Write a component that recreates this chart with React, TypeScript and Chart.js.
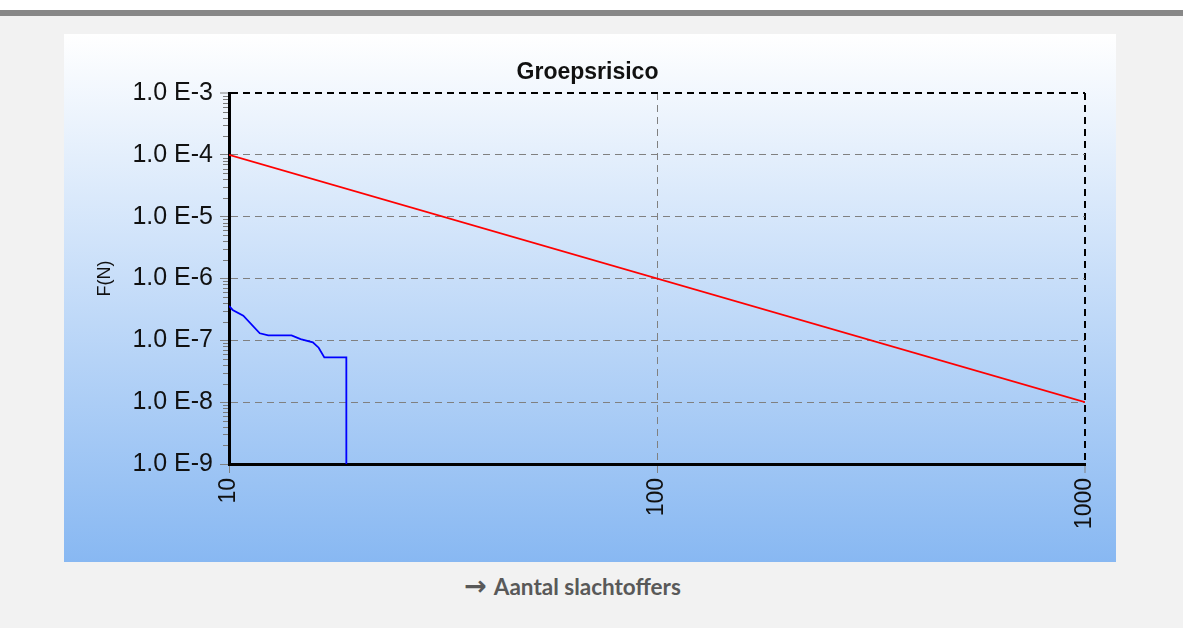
import React, { useEffect, useRef } from "react";
import { Chart, registerables } from "chart.js";

Chart.register(...registerables);

// ---- data ----
const xTickValues = [10, 100, 1000];
const xTickLabels = ["10", "100", "1000"];
const yTickValues = [1e-9, 1e-8, 1e-7, 1e-6, 1e-5, 1e-4, 1e-3];
const yTickLabels = ["1.0 E-9", "1.0 E-8", "1.0 E-7", "1.0 E-6", "1.0 E-5", "1.0 E-4", "1.0 E-3"];

const normN = [10, 1000];
const normF = [1e-4, 1e-8];

const riskN = [10, 10.2, 10.8, 11.8, 12.35, 14.0, 14.7, 15.7, 16.2, 16.7, 18.8, 18.8];
const riskF = [3.6e-7, 3.1e-7, 2.5e-7, 1.3e-7, 1.2e-7, 1.2e-7, 1.05e-7, 9.3e-8, 7.6e-8, 5.3e-8, 5.3e-8, 1e-9];

const chartTitle = "Groepsrisico";
const yTitle = "F(N)";
const xTitle = "Aantal slachtoffers";

const minorTicks = {
  id: "minorTicks",
  afterDraw(chart: any) {
    const { ctx, chartArea, scales } = chart;
    const y = scales.y;
    ctx.save();
    ctx.strokeStyle = "#7a7a7a";
    ctx.lineWidth = 1;
    for (let d = -9; d < -3; d++) {
      for (let k = 2; k <= 9; k++) {
        const py = Math.round(y.getPixelForValue(k * Math.pow(10, d))) + 0.5;
        ctx.beginPath();
        ctx.moveTo(chartArea.left - 6, py);
        ctx.lineTo(chartArea.left - 1, py);
        ctx.stroke();
      }
    }
    ctx.restore();
  },
};

function GroupRiskChart() {
  const ref = useRef<HTMLCanvasElement | null>(null);
  useEffect(() => {
    if (!ref.current) return;
    const chart = new Chart(ref.current, {
      type: "line",
      data: {
        datasets: [
          {
            data: normN.map((n, i) => ({ x: n, y: normF[i] })),
            borderColor: "#ff0000",
            borderWidth: 1.6,
            pointRadius: 0,
            tension: 0,
          },
          {
            data: riskN.map((n, i) => ({ x: n, y: riskF[i] })),
            borderColor: "#0000ff",
            borderWidth: 1.8,
            pointRadius: 0,
            tension: 0,
          },
        ],
      },
      options: {
        animation: false,
        responsive: false,
        events: [],
        layout: { padding: { top: 0, right: 5, bottom: 0, left: 0 } },
        plugins: {
          legend: { display: false },
          tooltip: { enabled: false },
          title: {
            display: true,
            text: chartTitle,
            color: "#111111",
            font: { family: "Liberation Sans", size: 23, weight: "bold" },
            padding: { top: 25, bottom: 6.4 },
          },
        },
        scales: {
          x: {
            type: "logarithmic",
            min: 10,
            max: 1000,
            afterBuildTicks: (scale: any) => {
              scale.ticks = xTickValues.map((v) => ({ value: v }));
            },
            afterFit: (scale: any) => {
              scale.height = 98;
              scale.paddingLeft = 0;
              scale.paddingRight = 31;
            },
            ticks: {
              autoSkip: false,
              minRotation: 90,
              maxRotation: 90,
              padding: 5,
              color: "#111111",
              font: { family: "Liberation Sans", size: 23 },
              callback: (_v: any, i: number) => xTickLabels[i],
            },
            grid: {
              color: (c: any) => (c.tick && c.tick.value === 1000 ? "#000000" : "#808080"),
              lineWidth: (c: any) => (c.tick && c.tick.value === 1000 ? 2 : 1),
              tickColor: "#808080",
              tickLength: 9,
              tickWidth: 1,
              tickBorderDash: [],
            },
            border: { display: true, color: "#000000", width: 3, dash: [7, 5] },
          },
          y: {
            type: "logarithmic",
            min: 1e-9,
            max: 1e-3,
            afterBuildTicks: (scale: any) => {
              scale.ticks = yTickValues.map((v) => ({ value: v }));
            },
            afterFit: (scale: any) => {
              scale.width = 165;
            },
            ticks: {
              autoSkip: false,
              padding: 7,
              color: "#111111",
              font: { family: "Liberation Sans", size: 25 },
              callback: (_v: any, i: number) => yTickLabels[i],
            },
            grid: {
              color: (c: any) => (c.tick && c.tick.value === 1e-3 ? "#000000" : "#808080"),
              lineWidth: (c: any) => (c.tick && c.tick.value === 1e-3 ? 2 : 1),
              tickColor: "#808080",
              tickLength: 9,
              tickWidth: 1,
              tickBorderDash: [],
            },
            border: { display: true, color: "#000000", width: 3, dash: [7, 5] },
            title: {
              display: true,
              text: yTitle,
              color: "#111111",
              font: { family: "Liberation Sans", size: 18 },
              padding: { top: 30, bottom: 0 },
            },
          },
        },
      },
      plugins: [minorTicks],
    } as any);
    return () => chart.destroy();
  }, []);
  return <canvas ref={ref} width={1052} height={528} style={{ display: "block", width: 1052, height: 528 }} />;
}

export default function App() {
  return (
    <div style={{ position: "fixed", left: 0, top: 0, width: 1183, height: 628, background: "#f2f2f2", overflow: "hidden" }}>
      <div style={{ position: "absolute", left: 0, top: 0, width: 1183, height: 10, background: "#ffffff" }} />
      <div style={{ position: "absolute", left: 0, top: 10, width: 1183, height: 6, background: "#888888" }} />
      <div
        style={{
          position: "absolute",
          left: 64,
          top: 34,
          width: 1052,
          height: 528,
          background: "linear-gradient(to bottom, #ffffff 0%, #88b8f2 100%)",
        }}
      >
        <GroupRiskChart />
      </div>
      <div
        style={{
          position: "absolute",
          left: 0,
          width: 1183,
          top: 572,
          textAlign: "center",
          color: "#595959",
          fontFamily: "Lato, 'Open Sans', sans-serif",
          fontWeight: "bold",
          fontSize: 22.5,
          lineHeight: "28px",
          paddingRight: 38,
          boxSizing: "border-box",
        }}
      >
        <span style={{ fontFamily: "'DejaVu Sans', sans-serif", fontWeight: "bold", fontSize: 27, marginRight: 7 }}>→</span>
        {xTitle}
      </div>
    </div>
  );
}
